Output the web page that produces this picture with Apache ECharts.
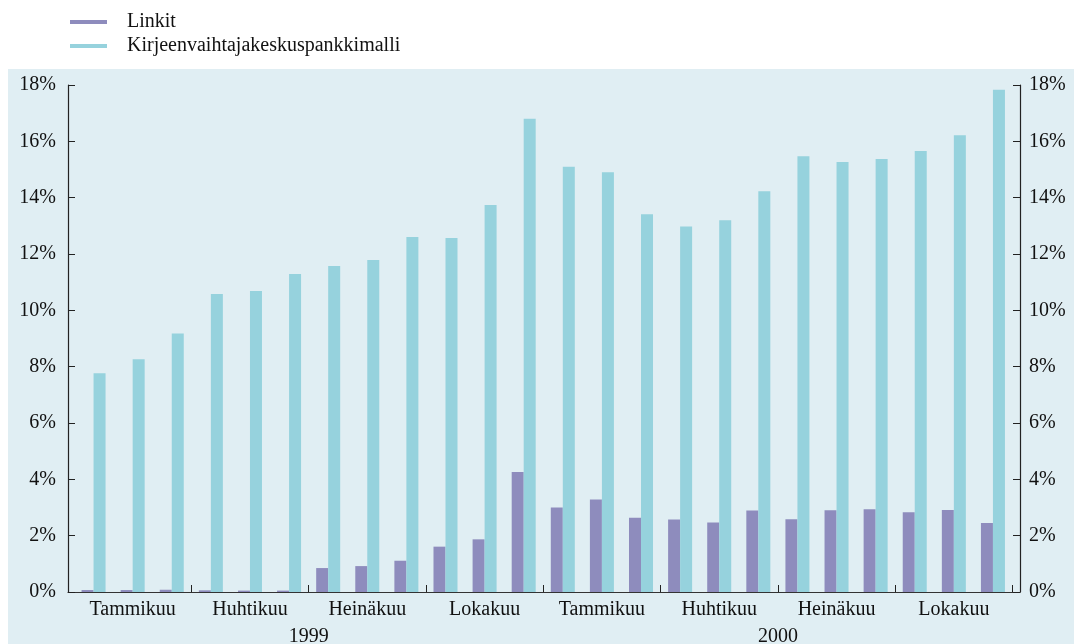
<!DOCTYPE html>
<html>
<head>
<meta charset="utf-8">
<script src="https://cdn.jsdelivr.net/npm/echarts@6/dist/echarts.min.js"></script>
<style>
  html, body { margin: 0; padding: 0; background: #ffffff; }
  #chart { width: 1074px; height: 644px; }
</style>
</head>
<body>
<div id="chart"></div>
<script>
// kuukaudet 1/1999 - 12/2000
const months = [
  "Tammikuu", "Helmikuu", "Maaliskuu", "Huhtikuu", "Toukokuu", "Kesäkuu",
  "Heinäkuu", "Elokuu", "Syyskuu", "Lokakuu", "Marraskuu", "Joulukuu",
  "Tammikuu", "Helmikuu", "Maaliskuu", "Huhtikuu", "Toukokuu", "Kesäkuu",
  "Heinäkuu", "Elokuu", "Syyskuu", "Lokakuu", "Marraskuu", "Joulukuu"
];
const years = ["1999", "2000"];

const linkit = [
  0.07, 0.07, 0.08, 0.06, 0.05, 0.05, 0.85, 0.92, 1.11, 1.61, 1.87, 4.26,
  3.0, 3.28, 2.64, 2.57, 2.47, 2.89, 2.58, 2.9, 2.94, 2.83, 2.91, 2.45
];
const kirjeenvaihtaja = [
  7.77, 8.26, 9.18, 10.58, 10.69, 11.29, 11.57, 11.79, 12.6, 12.57, 13.74, 16.8,
  15.1, 14.9, 13.41, 12.98, 13.2, 14.23, 15.47, 15.27, 15.37, 15.66, 16.22, 17.83
];

const yTicks = { min: 0, max: 18, interval: 2 };

const font = '"Liberation Serif", "Times New Roman", serif';
const ink = "#111111";
const purple = "#8e8cbd";
const cyan = "#96d2dd";
const panel = "#e0eef3";

const chart = echarts.init(document.getElementById("chart"));

const valueAxis = (pos) => ({
  type: "value",
  gridIndex: 0,
  position: pos,
  min: yTicks.min,
  max: yTicks.max,
  interval: yTicks.interval,
  axisLine: { show: true, lineStyle: { color: "#222", width: 1.2 } },
  axisTick: { show: true, inside: true, length: 7, lineStyle: { color: "#222" } },
  axisLabel: {
    formatter: "{value}%",
    color: ink,
    fontFamily: font,
    fontSize: 20,
    margin: pos === "left" ? 12 : 9
  },
  splitLine: { show: false }
});

chart.setOption({
  animation: false,
  backgroundColor: "#ffffff",
  graphic: [
    {
      type: "rect",
      z: -10,
      shape: { x: 8, y: 69, width: 1066, height: 575 },
      style: { fill: panel }
    }
  ],
  legend: {
    orient: "vertical",
    left: 65,
    top: 7,
    itemWidth: 37,
    itemHeight: 4,
    itemGap: 4,
    icon: "rect",
    data: ["Linkit", "Kirjeenvaihtajakeskuspankkimalli"],
    textStyle: { color: ink, fontFamily: font, fontSize: 20, padding: [0, 0, 0, 15] }
  },
  grid: [
    { left: 68, right: 54, top: 85, bottom: 52, outerBoundsMode: "none" },
    { left: 74, right: 61.5, top: 85, bottom: 52, outerBoundsMode: "none" }
  ],
  xAxis: [
    {
      type: "value",
      gridIndex: 0,
      min: 0,
      max: 1,
      axisLine: { show: true, onZero: false, lineStyle: { color: "#333", width: 1.2 } },
      axisTick: { show: false },
      axisLabel: { show: false },
      splitLine: { show: false }
    },
    {
      type: "category",
      gridIndex: 1,
      data: months,
      axisLine: { show: false },
      axisTick: {
        show: true,
        inside: true,
        length: 7,
        interval: (i) => i % 3 === 0 && i > 0 && i < months.length,
        lineStyle: { color: "#222" }
      },
      axisLabel: {
        // neljänneksen nimi keskelle neljännestä
        interval: (i) => i % 3 === 1,
        formatter: (v, i) => months[i - 1] || "",
        color: ink,
        fontFamily: font,
        fontSize: 20,
        margin: 8
      }
    },
    {
      type: "category",
      gridIndex: 1,
      position: "bottom",
      offset: 29,
      data: years,
      axisLine: { show: false },
      axisTick: { show: false },
      axisLabel: { color: ink, fontFamily: font, fontSize: 20, margin: 6 }
    }
  ],
  yAxis: [
    valueAxis("left"),
    valueAxis("right"),
    {
      type: "value",
      gridIndex: 1,
      min: yTicks.min,
      max: yTicks.max,
      show: false
    }
  ],
  series: [
    {
      name: "Linkit",
      type: "bar",
      xAxisIndex: 1,
      yAxisIndex: 2,
      data: linkit,
      barWidth: 12,
      barGap: "0%",
      itemStyle: { color: purple }
    },
    {
      name: "Kirjeenvaihtajakeskuspankkimalli",
      type: "bar",
      xAxisIndex: 1,
      yAxisIndex: 2,
      data: kirjeenvaihtaja,
      barWidth: 12,
      barGap: "0%",
      itemStyle: { color: cyan }
    }
  ]
});
</script>
</body>
</html>
